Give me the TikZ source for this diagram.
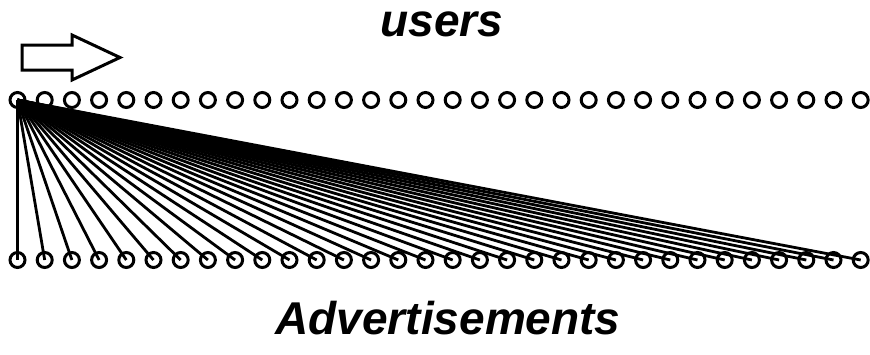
\documentclass[tikz,border=0pt]{standalone}
\usepackage{fontspec}
\setmainfont{Liberation Sans}
\begin{document}
\begin{tikzpicture}[x=1pt,y=-1pt,
  dot/.style={circle,draw,line width=3pt,minimum size=15pt,inner sep=0pt},
  link/.style={line width=2.8pt},
  lbl/.style={font=\fontsize{46}{50}\selectfont\bfseries\itshape,inner sep=0pt,anchor=base},
  blockarrow/.style={draw,line width=3pt,line join=miter}]
\useasboundingbox (0,0) rectangle (870,354);
\node[lbl,text height=25pt,text depth=0pt] (users) at (442,36) {users};
\node[lbl] (ads) at (448,334) {Advertisements};
\foreach \i in {1,...,32}{
  \pgfmathsetmacro{\xx}{17.5+(\i-1)*27.2}
  \node[dot] (u\i) at (\xx,100) {};
  \node[dot] (a\i) at (\xx,260) {};
}
\foreach \i in {1,...,32}{
  \draw[link] (u1.center) -- (a\i.center);
}
\draw[blockarrow] (22,45) -- (72,45) -- (72,35) -- (120,57.5) -- (72,80) -- (72,70) -- (22,70) -- cycle;
\end{tikzpicture}
\end{document}
